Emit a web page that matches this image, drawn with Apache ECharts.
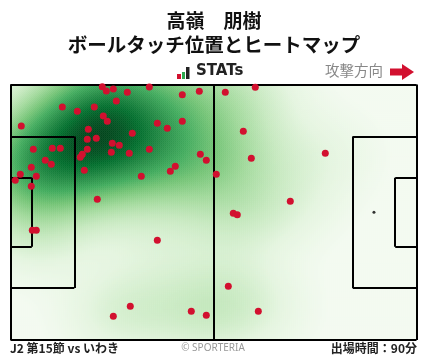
<!DOCTYPE html>
<html><head><meta charset="utf-8">
<script src="https://cdn.jsdelivr.net/npm/echarts@6/dist/echarts.min.js"></script>
<style>html,body{margin:0;padding:0;background:#fff}#c{width:428px;height:359px}</style>
</head><body><div id="c"></div>
<script>
// Ball touch positions in pitch units (x: 0-105 toward attack, y: 0-68 from top touchline)
const touchX = [23.74,24.78,26.59,30.21,35.90,44.43,48.83,27.36,13.40,17.28,21.67,24.00,25.03,2.79,37.97,44.43,40.55,20.12,31.50,19.86,22.19,26.33,28.14,5.90,10.81,12.88,19.86,26.07,30.72,35.90,18.57,18.05,9.00,10.55,5.38,19.09,49.09,50.64,42.62,41.33,2.53,6.67,1.24,5.38,33.83,53.22,22.45,55.55,63.31,60.21,62.28,81.41,72.36,57.62,58.65,5.64,6.67,37.97,30.98,26.59,46.76,50.64,56.33,64.09];
const touchY = [0.59,1.73,1.20,2.08,0.67,2.71,1.81,4.39,5.99,7.13,5.99,8.38,9.79,11.04,10.33,9.79,11.66,11.92,12.99,14.58,14.32,15.65,16.18,17.25,16.98,16.98,17.25,18.04,18.31,17.25,18.58,19.37,20.17,21.24,22.04,22.83,18.58,20.17,21.77,23.10,23.90,24.43,25.50,27.09,24.43,23.90,30.55,2.08,0.75,12.46,19.64,18.31,31.08,34.28,34.65,38.80,38.80,41.46,59.03,61.69,60.36,61.42,53.71,60.36];

// Pitch markings (pitch units)
const pitchLines = [
  [[0,0],[105,0]],[[105,0],[105,68]],[[105,68],[0,68]],[[0,68],[0,0]],
  [[52.5,0],[52.5,68]],
  [[0,13.84],[16.5,13.84]],[[16.5,13.84],[16.5,54.16]],[[16.5,54.16],[0,54.16]],
  [[0,24.84],[5.5,24.84]],[[5.5,24.84],[5.5,43.16]],[[5.5,43.16],[0,43.16]],
  [[105,13.84],[88.5,13.84]],[[88.5,13.84],[88.5,54.16]],[[88.5,54.16],[105,54.16]],
  [[105,24.84],[99.5,24.84]],[[99.5,24.84],[99.5,43.16]],[[99.5,43.16],[105,43.16]]
];
const penaltySpot = [[94,34]];

const PW = 105, PH = 68, NX = 203, NY = 128;
const BW_SCALE = 1.05;

// Gaussian KDE (per-axis Scott bandwidth) of the touch positions
function kde() {
  const n = touchX.length;
  let mx = 0, my = 0;
  for (let i = 0; i < n; i++) { mx += touchX[i]; my += touchY[i]; }
  mx /= n; my /= n;
  let sxx = 0, syy = 0;
  for (let i = 0; i < n; i++) {
    const dx = touchX[i]-mx, dy = touchY[i]-my;
    sxx += dx*dx; syy += dy*dy;
  }
  sxx /= (n-1); syy /= (n-1);
  const f = Math.pow(n, -1/6)*BW_SCALE, f2 = f*f;
  const ia = 1/(sxx*f2), id = 1/(syy*f2);
  const out = []; let maxV = 0;
  for (let j = 0; j < NY; j++) {
    const y = (j+0.5)*PH/NY;
    for (let i = 0; i < NX; i++) {
      const x = (i+0.5)*PW/NX;
      let s = 0;
      for (let k = 0; k < n; k++) {
        const dx = x-touchX[k], dy = y-touchY[k];
        s += Math.exp(-0.5*(ia*dx*dx + id*dy*dy));
      }
      if (s > maxV) maxV = s;
      out.push([i, j, s]);
    }
  }
  out.forEach(p => p.push(Math.pow(p[2]/maxV, 0.7)));
  return {out, maxV};
}
const K = kde();

const chart = echarts.init(document.getElementById('c'), null, {renderer:'canvas'});
const gridBox = {left:10.5, top:84.5, width:406, height:255.5};
const idxX = Array.from({length:NX}, (_, i) => i);
const idxY = Array.from({length:NY}, (_, i) => i);
const segData = pitchLines.map(s => ({coords:s}));

chart.setOption({
  animation:false,
  backgroundColor:'#fff',
  grid:[Object.assign({}, gridBox), Object.assign({}, gridBox)],
  xAxis:[
    {type:'value', min:0, max:PW, show:false, gridIndex:0},
    {type:'category', data:idxX, show:false, gridIndex:1}
  ],
  yAxis:[
    {type:'value', min:0, max:PH, inverse:true, show:false, gridIndex:0},
    {type:'category', data:idxY, inverse:true, show:false, gridIndex:1}
  ],
  visualMap:{
    show:false, type:'continuous', seriesIndex:0, dimension:3,
    min:Math.pow(0.012, 0.7), max:1.0001,
    inRange:{color:['#f3faf0','#e5f5e0','#c7e9c0','#a1d99b','#74c476','#41ab5d','#238b45','#006d2c','#00441b']},
    outOfRange:{color:'rgba(255,255,255,0)'}
  },
  series:[
    {type:'heatmap', xAxisIndex:1, yAxisIndex:1, data:K.out, progressive:0, z:1,
     itemStyle:{borderWidth:0}, emphasis:{disabled:true}},
    {type:'lines', coordinateSystem:'cartesian2d', xAxisIndex:0, yAxisIndex:0, z:3,
     polyline:false, data:segData, lineStyle:{color:'#000', width:2, opacity:1}, silent:true},
    {type:'scatter', xAxisIndex:0, yAxisIndex:0, z:4, symbolSize:3,
     data:penaltySpot, itemStyle:{color:'#000'}, silent:true},
    {type:'scatter', xAxisIndex:0, yAxisIndex:0, z:5, symbolSize:7,
     data:touchX.map((x,i)=>[x,touchY[i]]), itemStyle:{color:'#d2102f', opacity:1}, silent:true}
  ],
  graphic:[
    {type:'text', left:'center', top:11, style:{text:'高嶺　朋樹', font:'bold 19px "Noto Sans CJK JP"', fill:'#111'}},
    {type:'text', left:'center', top:35, style:{text:'ボールタッチ位置とヒートマップ', font:'bold 19.5px "Noto Sans CJK JP"', fill:'#111'}},
    {type:'rect', shape:{x:177,y:74,width:4,height:5}, style:{fill:'#d2102f'}},
    {type:'rect', shape:{x:182,y:72,width:3,height:7}, style:{fill:'#2fa84f'}},
    {type:'rect', shape:{x:186,y:67,width:3.5,height:12}, style:{fill:'#222'}},
    {type:'text', x:196, y:64, style:{text:'STATs', font:'bold 15px "DejaVu Sans", sans-serif', fill:'#222'}},
    {type:'text', x:325, y:63, style:{text:'攻撃方向', font:'14.5px "Noto Sans CJK JP"', fill:'#888'}},
    {type:'polygon', shape:{points:[[390,68.5],[402,68.5],[402,64],[414,72],[402,80],[402,75.5],[390,75.5]]}, style:{fill:'#d2102f'}},
    {type:'text', x:10, y:342, style:{text:'J2 第15節 vs いわき', font:'bold 12px "Noto Sans CJK JP"', fill:'#222'}},
    {type:'text', x:213, y:343, style:{text:'© SPORTERIA', font:'10px "Noto Sans", sans-serif', fill:'#999', align:'center'}},
    {type:'text', right:11, y:342, style:{text:'出場時間：90分', font:'bold 12px "Noto Sans CJK JP"', fill:'#222'}}
  ]
});
</script></body></html>
